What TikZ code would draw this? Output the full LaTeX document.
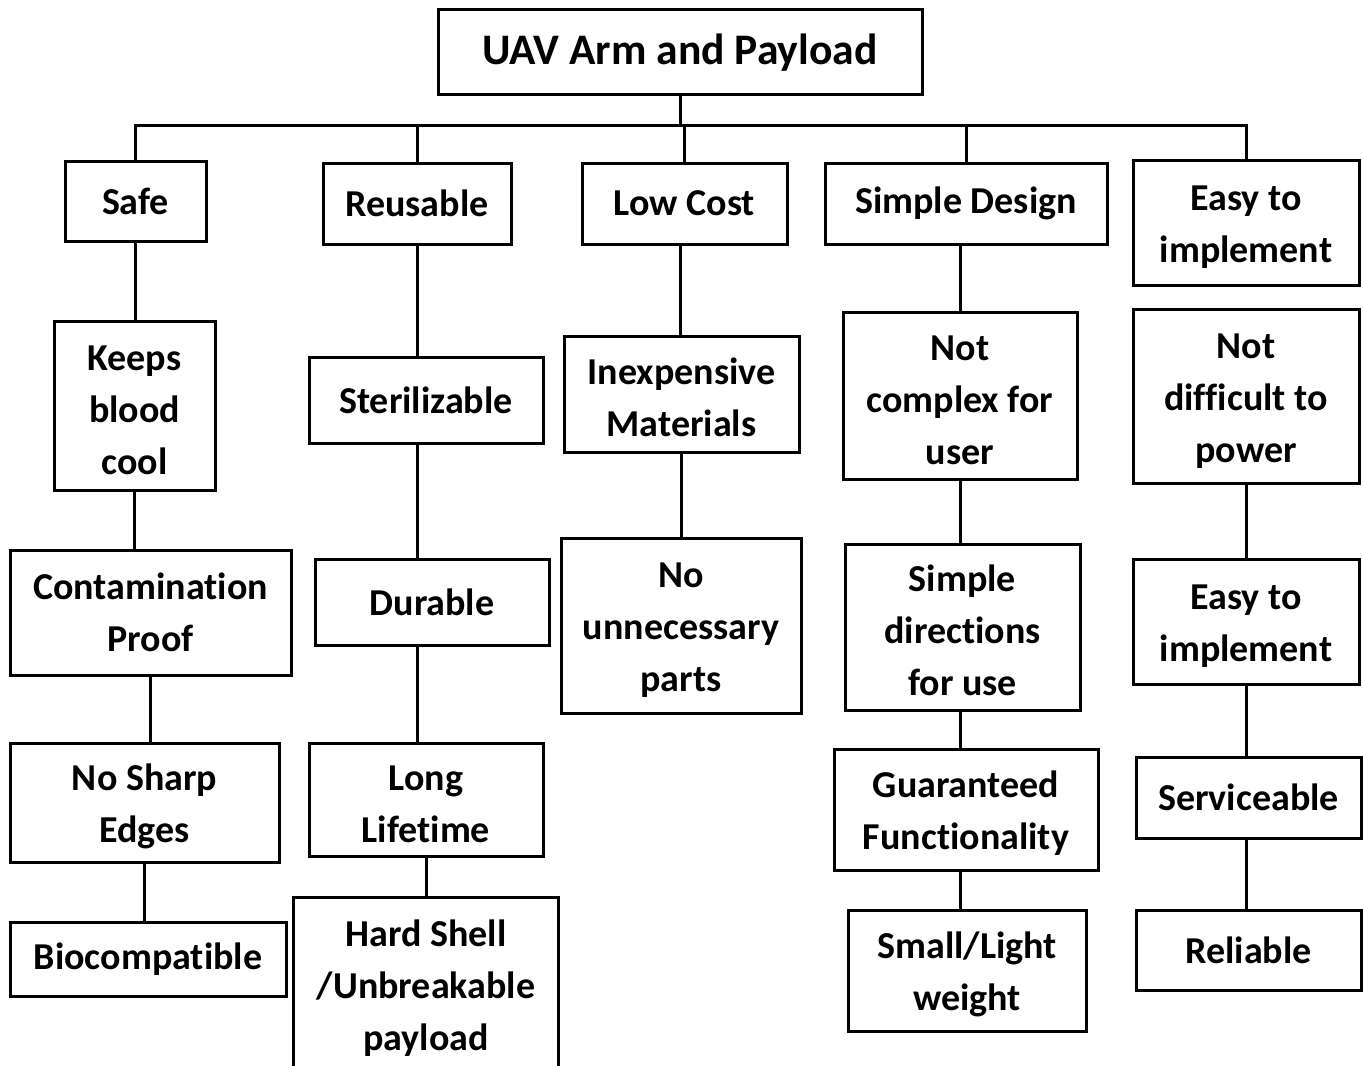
\documentclass[tikz,border=0pt]{standalone}
\usepackage{fontspec}
\setmainfont{Carlito}[Ligatures=NoCommon]
\newcommand\fl{\rule{0pt}{17pt}}
\begin{document}
\begin{tikzpicture}[x=0.5pt,y=-0.5pt,
  box/.style={draw, line width=1.5pt, align=center, inner sep=0pt,
    font=\bfseries\fontsize{19}{26}\selectfont},
  openbox/.style={align=center, inner sep=0pt,
    font=\bfseries\fontsize{19}{26}\selectfont},
  conn/.style={line width=1.5pt}]
\useasboundingbox[fill=white] (0,0) rectangle (1363,1065);
% root
\node[box, minimum width=484*0.5pt, minimum height=85*0.5pt, font=\bfseries\fontsize{21.8}{26}\selectfont] (root) at (680,52.5) {UAV Arm and Payload};
% level 1
\node[box, minimum width=141*0.5pt, minimum height=80*0.5pt] (safe) at (135.5,201) {Safe};
\node[box, minimum width=188*0.5pt, minimum height=81*0.5pt] (reus) at (417,203.5) {Reusable};
\node[box, minimum width=205*0.5pt, minimum height=81*0.5pt] (low) at (684.5,203.5) {Low Cost};
\node[box, minimum width=282*0.5pt, minimum height=81*0.5pt] (simp) at (966,203.5) {Simple Design};
\node[box, minimum width=226*0.5pt, minimum height=125*0.5pt] (easy) at (1246,222.5) {\fl Easy to\\implement};
% safe column
\node[box, minimum width=161*0.5pt, minimum height=169*0.5pt] (keeps) at (134.5,405.5) {\fl Keeps\\blood\\cool};
\node[box, minimum width=281*0.5pt, minimum height=125*0.5pt] (cont) at (150.5,612.5) {Contamination\\Proof};
\node[box, minimum width=269*0.5pt, minimum height=119*0.5pt] (sharp) at (144.5,802.5) {\fl No Sharp\\Edges};
\node[box, minimum width=276*0.5pt, minimum height=74*0.5pt] (bio) at (148,959) {Biocompatible};
% reusable column
\node[box, minimum width=234*0.5pt, minimum height=86*0.5pt] (ster) at (426,400) {Sterilizable};
\node[box, minimum width=234*0.5pt, minimum height=86*0.5pt] (dur) at (432,602) {Durable};
\node[box, minimum width=234*0.5pt, minimum height=113*0.5pt] (long) at (426,799.5) {\fl Long\\Lifetime};
\node[openbox, minimum width=264*0.5pt, minimum height=180*0.5pt] (hard) at (426,988) {Hard Shell\\/Unbreakable\\payload};
\draw[conn] (hard.south west) -- (hard.north west) -- (hard.north east) -- (hard.south east);
% low cost column
\node[box, minimum width=235*0.5pt, minimum height=116*0.5pt] (inexp) at (681.5,394) {\fl Inexpensive\\Materials};
\node[box, minimum width=240*0.5pt, minimum height=175*0.5pt] (nounn) at (681,625.5) {\fl No\\unnecessary\\parts};
% simple design column
\node[box, minimum width=234*0.5pt, minimum height=167*0.5pt] (notc) at (960,395.5) {\fl Not\\complex for\\user};
\node[box, minimum width=235*0.5pt, minimum height=166*0.5pt] (sdir) at (962.5,627) {\fl Simple\\directions\\for use};
\node[box, minimum width=264*0.5pt, minimum height=121*0.5pt] (guar) at (966,809.5) {\fl Guaranteed\\Functionality};
\node[box, minimum width=238*0.5pt, minimum height=121*0.5pt] (small) at (967,970.5) {\fl Small/Light\\weight};
% easy column
\node[box, minimum width=226*0.5pt, minimum height=174*0.5pt] (notd) at (1246,396) {\fl Not\\difficult to\\power};
\node[box, minimum width=226*0.5pt, minimum height=125*0.5pt] (easyb) at (1246,621.5) {\fl Easy to\\implement};
\node[box, minimum width=225*0.5pt, minimum height=81*0.5pt] (serv) at (1248.5,797.5) {Serviceable};
\node[box, minimum width=225*0.5pt, minimum height=80*0.5pt] (rel) at (1248.5,950) {Reliable};
% connectors
\coordinate (bar) at (680,125);
\draw[conn] (root.south) -- (bar);
\draw[conn] (safe.north) |- (bar) -| (easy.north);
\draw[conn] (reus.north) -- (reus.north |- bar);
\draw[conn] (low.north) -- (low.north |- bar);
\draw[conn] (simp.north) -- (simp.north |- bar);
\draw[conn] (safe.south) -- (safe.south |- keeps.north);
\draw[conn] (cont.north -| keeps.south) -- (keeps.south);
\draw[conn] (cont.south) -- (cont.south |- sharp.north);
\draw[conn] (sharp.south) -- (sharp.south |- bio.north);
\draw[conn] (reus.south) -- (reus.south |- ster.north);
\draw[conn] (ster.south -| reus.south) -- (reus.south |- dur.north);
\draw[conn] (dur.south -| reus.south) -- (reus.south |- long.north);
\draw[conn] (long.south) -- (long.south |- hard.north);
\draw[conn] (low.south -| root.south) -- (root.south |- inexp.north);
\draw[conn] (inexp.south) -- (inexp.south |- nounn.north);
\draw[conn] (simp.south -| notc.north) -- (notc.north);
\draw[conn] (notc.south) -- (notc.south |- sdir.north);
\draw[conn] (sdir.south -| notc.south) -- (notc.south |- guar.north);
\draw[conn] (guar.south -| notc.south) -- (notc.south |- small.north);
\draw[conn] (notd.south) -- (notd.south |- easyb.north);
\draw[conn] (easyb.south) -- (easyb.south |- serv.north);
\draw[conn] (serv.south -| easyb.south) -- (easyb.south |- rel.north);
\end{tikzpicture}
\end{document}
